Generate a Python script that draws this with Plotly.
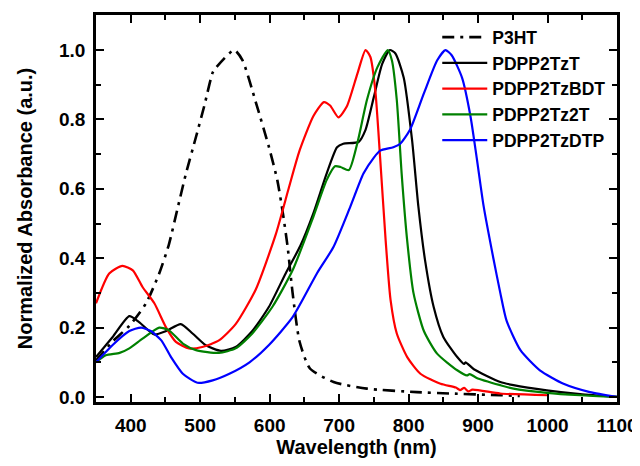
import plotly.graph_objects as go

# ---------------- data ----------------
p3ht_x = [350, 374, 398, 422, 441, 455, 467, 479, 494, 506, 518, 523, 549, 561, 580, 599,
          611, 619, 626, 633, 643, 658, 692, 740, 812, 860, 932, 960]
p3ht_y = [0.105, 0.16, 0.205, 0.27, 0.356, 0.44, 0.54, 0.64, 0.75, 0.84, 0.935, 0.95, 1.0, 0.97,
          0.85, 0.72, 0.625, 0.53, 0.43, 0.30, 0.16, 0.082, 0.043, 0.024, 0.014, 0.010, 0.005, 0.003]

tzt_x = [350, 374, 398, 412, 434, 451, 472, 489, 508, 530, 551, 575, 599, 623, 644, 663, 682,
         697, 706, 728, 738, 750, 762, 773, 781, 793, 805, 814, 824, 836, 850, 870, 880, 882,
         894, 932, 951, 999, 1047, 1100]
tzt_y = [0.115, 0.173, 0.233, 0.216, 0.18, 0.19, 0.21, 0.183, 0.149, 0.133, 0.144, 0.19, 0.26,
         0.356, 0.435, 0.53, 0.644, 0.72, 0.73, 0.735, 0.77, 0.865, 0.96, 1.0, 0.99, 0.92, 0.74,
         0.55, 0.39, 0.26, 0.173, 0.115, 0.095, 0.1, 0.08, 0.043, 0.034, 0.019, 0.008, 0.0]

bdt_x = [350, 369, 388, 403, 417, 434, 451, 465, 484, 503, 527, 551, 580, 609, 628, 643, 663,
         678, 687, 699, 711, 726, 738, 745, 752, 759, 767, 774, 783, 798, 817, 846, 868, 874,
         880, 886, 892, 932, 1001]
bdt_y = [0.27, 0.356, 0.378, 0.365, 0.317, 0.27, 0.20, 0.159, 0.14, 0.144, 0.163, 0.21, 0.31,
         0.47, 0.606, 0.71, 0.81, 0.85, 0.84, 0.806, 0.837, 0.93, 1.0, 0.98, 0.885, 0.69, 0.45,
         0.28, 0.183, 0.115, 0.067, 0.038, 0.027, 0.02, 0.026, 0.016, 0.021, 0.01, 0.005]

tz2t_x = [350, 364, 384, 398, 417, 441, 455, 475, 494, 527, 551, 575, 604, 633, 663, 682, 694,
          702, 714, 726, 740, 755, 770, 776, 783, 790, 798, 807, 822, 841, 870, 884, 888, 898,
          932, 951, 999, 1047, 1100]
tz2t_y = [0.10, 0.12, 0.127, 0.14, 0.168, 0.20, 0.192, 0.154, 0.135, 0.127, 0.14, 0.183, 0.26,
          0.365, 0.52, 0.625, 0.665, 0.663, 0.654, 0.73, 0.856, 0.95, 1.0, 0.97, 0.856, 0.644,
          0.45, 0.30, 0.19, 0.125, 0.077, 0.062, 0.066, 0.055, 0.034, 0.024, 0.012, 0.005, 0.0]

dtp_x = [350, 374, 398, 415, 429, 444, 458, 475, 496, 518, 542, 571, 599, 633, 668, 692, 716,
         735, 750, 759, 778, 788, 802, 822, 841, 853, 862, 877, 889, 898, 908, 922, 932, 941,
         961, 989, 1023, 1061, 1100]
dtp_y = [0.10, 0.15, 0.19, 0.20, 0.19, 0.163, 0.115, 0.067, 0.041, 0.048, 0.067, 0.10, 0.15,
         0.23, 0.356, 0.433, 0.548, 0.644, 0.69, 0.71, 0.72, 0.73, 0.77, 0.875, 0.97, 1.0, 0.985,
         0.92, 0.81, 0.69, 0.55, 0.40, 0.30, 0.22, 0.135, 0.077, 0.038, 0.014, 0.0]

x_ticks = [400, 500, 600, 700, 800, 900, 1000, 1100]
y_ticks = [0.0, 0.2, 0.4, 0.6, 0.8, 1.0]

FONT = "Liberation Sans, Arial, sans-serif"

fig = go.Figure()
series = [
    ("P3HT", p3ht_x, p3ht_y, "black", "12px,6px,3px,6px"),
    ("PDPP2TzT", tzt_x, tzt_y, "black", "solid"),
    ("PDPP2TzBDT", bdt_x, bdt_y, "red", "solid"),
    ("PDPP2Tz2T", tz2t_x, tz2t_y, "green", "solid"),
    ("PDPP2TzDTP", dtp_x, dtp_y, "blue", "solid"),
]
for name, xs, ys, col, dash in series:
    fig.add_trace(go.Scatter(
        x=xs, y=ys, mode="lines", name=name, cliponaxis=True,
        line=dict(color=col, width=2.6 if name == "P3HT" else 2.2, dash=dash,
                  shape="spline", smoothing=0.6),
    ))

axis_common = dict(
    showline=True, linecolor="black", linewidth=2.5, mirror="ticks",
    ticks="inside", ticklen=8, tickwidth=2, tickcolor="black",
    showgrid=False, zeroline=False, automargin=False,
    tickfont=dict(family=FONT, size=19, color="black", weight="bold"),
)

fig.update_xaxes(
    range=[350, 1100], tickvals=x_ticks, ticktext=[str(v) for v in x_ticks],
    minor=dict(ticks="inside", ticklen=5, tickwidth=2, tickcolor="black", dtick=50, tick0=350),
    title=dict(text="<b>Wavelength (nm)</b>", standoff=0,
               font=dict(family=FONT, size=20, color="black")),
    ticklabelstandoff=4,
    **axis_common,
)
fig.update_yaxes(
    range=[-0.0145, 1.101], tickvals=y_ticks, ticktext=[f"{v:.1f}" for v in y_ticks],
    minor=dict(ticks="inside", ticklen=5, tickwidth=2, tickcolor="black", dtick=0.1, tick0=0),
    title=dict(text="<b>Normalized Absorbance (a.u.)</b>", standoff=22,
               font=dict(family=FONT, size=20, color="black")),
    ticklabelstandoff=4,
    **axis_common,
)

# the page body adds an 8 px offset, so margins are shifted to compensate
fig.update_layout(
    width=640, height=466,
    margin=dict(l=88, r=31, t=7, b=72, autoexpand=False),
    plot_bgcolor="white", paper_bgcolor="white",
    font=dict(family=FONT, color="black"),
    legend=dict(
        x=0.655, y=0.989, xanchor="left", yanchor="top",
        bgcolor="rgba(0,0,0,0)", borderwidth=0,
        font=dict(family=FONT, size=17.5, color="black", weight="bold"),
        itemwidth=45, tracegroupgap=0,
    ),
    showlegend=True,
)

fig.write_html("out.html")
